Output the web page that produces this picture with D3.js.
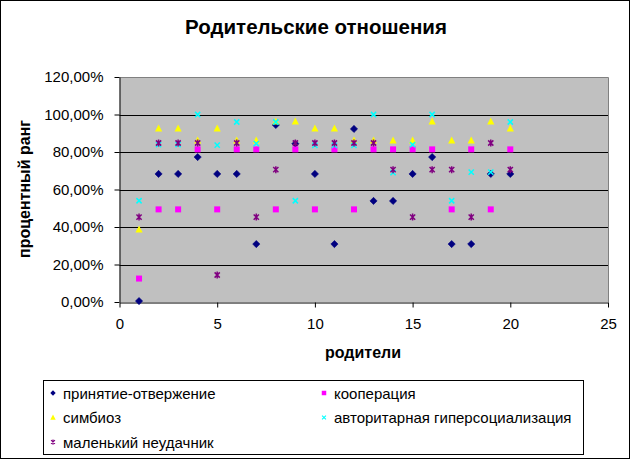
<!DOCTYPE html>
<html><head><meta charset="utf-8">
<script src="https://cdn.jsdelivr.net/npm/d3@7/dist/d3.min.js"></script>
<style>
body{margin:0;background:#fff;}
svg{display:block;font-family:"Liberation Sans",Arial,sans-serif;}
</style></head>
<body><svg id="chart" width="630" height="459"></svg>
<script>
const parents = [1,2,3,4,5,6,7,8,9,10,11,12,13,14,15,16,17,18,19,20];
const seriesNames = ["принятие-отвержение","кооперация","симбиоз","авторитарная гиперсоциализация","маленький неудачник"];
const acceptance = [0.5,68.3,68.3,77.3,68.3,68.3,30.9,94.4,84.4,68.3,30.9,92.3,53.9,53.9,68.3,77.3,30.9,30.9,68.3,68.3];
const cooperation = [12.5,49.4,49.4,81.4,49.4,81.4,81.4,49.4,81.4,49.4,81.4,49.4,81.4,81.4,81.4,81.4,49.4,81.4,49.4,81.4];
const symbiosis = [38.7,92.6,92.6,86.2,92.6,86.2,86.2,96.3,96.3,92.6,92.6,86.2,86.2,86.2,86.2,96.3,86.2,86.2,96.3,92.6];
const authoritarian = [54,84,84,100,83.7,96,84.5,96,54,83.5,83.5,83.5,100,69,83.9,100,54,69.3,69.3,96];
const littleLoser = [45.3,84.8,84.8,84.8,14.4,84.8,45.3,70.6,84.8,84.8,84.8,84.8,84.8,70.6,45.3,70.6,70.6,45.3,84.8,70.6];
const xTicks = [0,5,10,15,20,25];
const yTicks = [0,0.2,0.4,0.6,0.8,1.0,1.2];

const allSeries = [acceptance,cooperation,symbiosis,authoritarian,littleLoser];
const colors = ["#000080","#FF00FF","#FFFF00","#00FFFF","#800080"];

const svg = d3.select("#chart");
const W=630,H=459;
svg.append("rect").attr("x",0.5).attr("y",0.5).attr("width",W-1).attr("height",H-1).attr("fill","#fff").attr("stroke","#000");

const L=119.5,R=608,T=77,B=302;
const x = d3.scaleLinear().domain([0,25]).range([L,R]);
const y = d3.scaleLinear().domain([0,1.2]).range([B,T]);
const loc = d3.formatLocale({decimal:",",thousands:" ",grouping:[3],currency:["",""]});
const pct = loc.format(".2%");

svg.append("rect").attr("x",L).attr("y",T).attr("width",R-L).attr("height",B-T).attr("fill","#C0C0C0");
svg.append("g").selectAll("line").data(yTicks.filter(d=>d>0&&d<1.2)).join("line")
  .attr("x1",L).attr("x2",R).attr("y1",d=>Math.round(y(d))+0.5).attr("y2",d=>Math.round(y(d))+0.5)
  .attr("stroke","#000").attr("stroke-width",1);
svg.append("path").attr("d",`M${L},${T+0.5}H${R+0.5}V${B}`).attr("fill","none").attr("stroke","#808080");

const gy = svg.append("g").attr("transform",`translate(${L},0)`)
  .call(d3.axisLeft(y).tickValues(yTicks).tickFormat(pct).tickSize(5).tickSizeOuter(0).tickPadding(11));
const gx = svg.append("g").attr("transform",`translate(0,${B+0.5})`)
  .call(d3.axisBottom(x).tickValues(xTicks).tickSize(5).tickSizeOuter(0).tickPadding(11));
[gy,gx].forEach(g=>{
  g.selectAll("text").attr("font-size",15).attr("fill","#000").attr("font-family","Liberation Sans,Arial,sans-serif");
  g.selectAll("line,path").attr("stroke","#000");
});

svg.append("text").attr("x",316).attr("y",34).attr("text-anchor","middle").attr("font-weight","bold").attr("font-size",20.5).text("Родительские отношения");
svg.append("text").attr("x",363).attr("y",358).attr("text-anchor","middle").attr("font-weight","bold").attr("font-size",16).text("родители");
svg.append("text").attr("transform","translate(30,189) rotate(-90)").attr("text-anchor","middle").attr("font-weight","bold").attr("font-size",16).text("процентный ранг");

function markerPath(i){
  if(i===0) return "M0,-3.6L3.6,0L0,3.6L-3.6,0Z";
  if(i===1) return "M-3,-3H3V3H-3Z";
  if(i===2) return "M0,-4L3.6,3H-3.6Z";
  if(i===3) return "M-2.6,-2.6L2.6,2.6M2.6,-2.6L-2.6,2.6";
  return "M-2.6,-2.6L2.6,2.6M2.6,-2.6L-2.6,2.6M0,-3.5V3.5";
}
allSeries.forEach((vals,i)=>{
  const g = svg.append("g");
  g.selectAll("path").data(vals.map((v,k)=>({x:parents[k],v}))).join("path")
    .attr("transform",d=>`translate(${x(d.x)},${y(d.v/100)})`)
    .attr("d",markerPath(i))
    .attr("fill",i>=3?"none":colors[i])
    .attr("stroke",colors[i]).attr("stroke-width",i>=3?1.5:(i===0?0.6:0));
});

const lg = svg.append("g");
lg.append("rect").attr("x",43.5).attr("y",380.5).attr("width",540).attr("height",74).attr("fill","#fff").attr("stroke","#000");
const legPos = [[53,393],[324,393],[53,417.5],[324,417.5],[53,442]];
seriesNames.forEach((n,i)=>{
  const [lx,ly]=legPos[i];
  lg.append("path").attr("transform",`translate(${lx},${ly}) scale(0.75)`).attr("d",markerPath(i))
    .attr("fill",i>=3?"none":colors[i]).attr("stroke",colors[i]).attr("stroke-width",i>=3?1.5:0);
  lg.append("text").attr("x",lx+10).attr("y",ly+5.5).attr("font-size",15).text(n);
});
</script></body></html>
